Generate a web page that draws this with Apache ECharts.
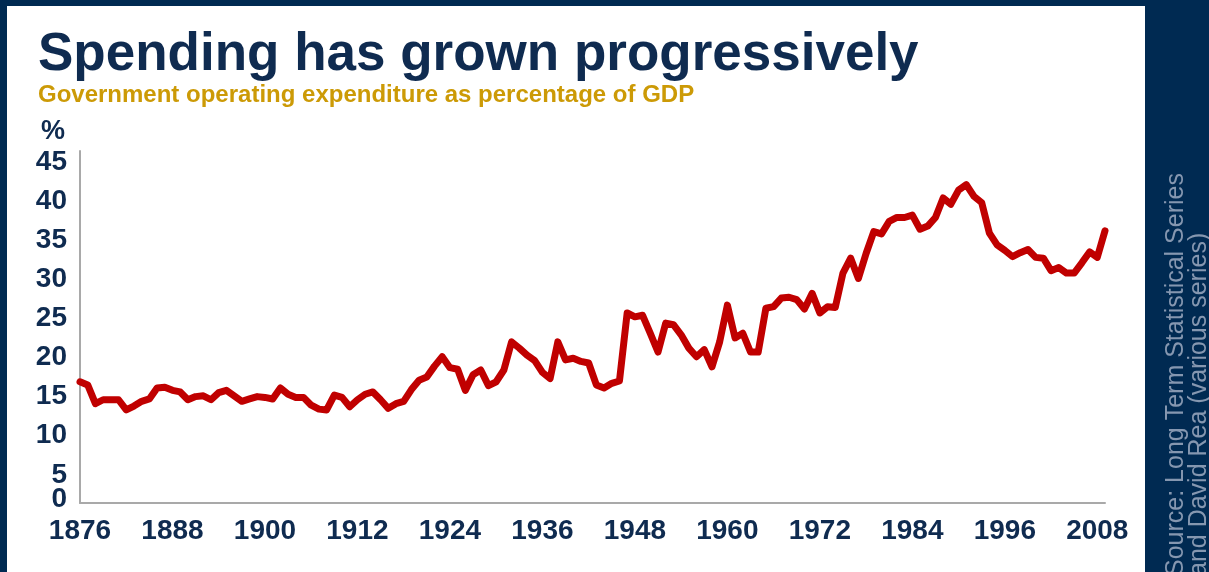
<!DOCTYPE html>
<html>
<head>
<meta charset="utf-8">
<title>Spending has grown progressively</title>
<script src="https://cdn.jsdelivr.net/npm/echarts@6/dist/echarts.min.js"></script>
<style>
  html, body {
    margin: 0;
    padding: 0;
    background: #002a52;
  }
  #chart {
    width: 1209px;
    height: 572px;
  }
</style>
</head>
<body>
<div id="chart"></div>
<script>
// 年份 1876 - 2009
const years = []
for (let y = 1876; y <= 2009; y++) {
  years.push(String(y))
}

// 政府经营支出占 GDP 百分比
const spending = [
  15.5, 15.1, 12.7, 13.2, 13.2, 13.2, 11.9, 12.4, 13.0, 13.3, // 1876
  14.7, 14.8, 14.4, 14.2, 13.2, 13.6, 13.7, 13.2, 14.1, 14.4, // 1886
  13.7, 13.0, 13.3, 13.6, 13.5, 13.3, 14.7, 13.9, 13.5, 13.5, // 1896
  12.5, 12.0, 11.9, 13.8, 13.5, 12.3, 13.2, 13.9, 14.2, 13.2, // 1906
  12.1, 12.7, 13.0, 14.5, 15.7, 16.1, 17.5, 18.7, 17.3, 17.1, // 1916
  14.4, 16.4, 17.0, 15.0, 15.5, 17.0, 20.6, 19.8, 18.9, 18.2, // 1926
  16.7, 15.9, 20.6, 18.3, 18.5, 18.1, 17.9, 15.1, 14.7, 15.3, // 1936
  15.6, 24.3, 23.8, 24.0, 21.7, 19.3, 23.0, 22.8, 21.5, 19.8, // 1946
  18.7, 19.6, 17.4, 20.6, 25.3, 21.1, 21.7, 19.3, 19.3, 24.9, // 1956
  25.1, 26.2, 26.3, 26.0, 24.8, 26.8, 24.3, 25.1, 25.0, 29.4, // 1966
  31.3, 28.7, 31.9, 34.7, 34.4, 36.0, 36.5, 36.5, 36.8, 35.0, // 1976
  35.4, 36.5, 39.0, 38.2, 40.0, 40.7, 39.2, 38.4, 34.5, 33.0, // 1986
  32.3, 31.5, 32.0, 32.4, 31.4, 31.3, 29.7, 30.1, 29.4, 29.4, // 1996
  30.7, 32.1, 31.4, 34.8                                      // 2006
]

const titleText = 'Spending has grown progressively'
const subtitleText = 'Government operating expenditure as percentage of GDP'
const sourceLines = ['Source: Long Term Statistical Series', 'and David Rea (various series)']

const navy = '#0f2b50'
const fontFamily = "'Liberation Sans', Arial, sans-serif"

const chart = echarts.init(document.getElementById('chart'))

const yLabelStyle = {
  margin: 13,
  color: navy,
  fontWeight: 'bold',
  fontSize: 28
}

const option = {
  animation: false,
  backgroundColor: '#002a52',
  textStyle: {
    fontFamily: fontFamily
  },
  grid: {
    left: 80,
    right: 104,
    top: 151,
    bottom: 69,
    containLabel: false
  },
  graphic: [
    {
      type: 'rect',
      z: -10,
      shape: {x: 7, y: 6, width: 1138, height: 570},
      style: {fill: '#ffffff'}
    },
    {
      type: 'text',
      x: 38,
      y: 29,
      style: {
        text: titleText,
        fill: navy,
        font: 'bold 53px ' + fontFamily,
        verticalAlign: 'top'
      }
    },
    {
      type: 'text',
      x: 38,
      y: 83,
      style: {
        text: subtitleText,
        fill: '#cc9a06',
        font: 'bold 24px ' + fontFamily,
        verticalAlign: 'top'
      }
    },
    {
      type: 'text',
      x: 53,
      y: 132,
      style: {
        text: '%',
        fill: navy,
        font: 'bold 27px ' + fontFamily,
        align: 'center',
        verticalAlign: 'middle'
      }
    },
    ...sourceLines.map((line, i) => ({
      type: 'text',
      x: 1176 + i * 23,
      y: 576,
      rotation: Math.PI / 2,
      style: {
        text: line,
        fill: '#8597b0',
        font: '25px ' + fontFamily,
        align: 'left',
        verticalAlign: 'middle'
      }
    }))
  ],
  xAxis: {
    type: 'category',
    data: years,
    boundaryGap: false,
    axisLine: {
      show: true,
      lineStyle: {color: '#a9a9a9', width: 2}
    },
    axisTick: {show: false},
    splitLine: {show: false},
    axisLabel: {
      interval: 11, // 每12年一个标签
      margin: 14,
      color: navy,
      fontWeight: 'bold',
      fontSize: 28
    }
  },
  yAxis: [
    {
      // 主轴：5 ~ 45，标签略低于刻度
      type: 'value',
      min: 0,
      max: 45,
      interval: 5,
      axisLine: {
        show: true,
        lineStyle: {color: '#a9a9a9', width: 2}
      },
      axisTick: {show: false},
      splitLine: {show: false},
      axisLabel: {
        ...yLabelStyle,
        showMinLabel: true,
        showMaxLabel: true,
        verticalAlign: 'top',
        lineHeight: 22,
        formatter: (value) => value === 0 ? '' : String(value)
      }
    },
    {
      // 只画 0，略高于刻度
      type: 'value',
      position: 'left',
      min: 0,
      max: 45,
      interval: 45,
      axisLine: {show: false},
      axisTick: {show: false},
      splitLine: {show: false},
      axisLabel: {
        ...yLabelStyle,
        showMinLabel: true,
        verticalAlign: 'bottom',
        lineHeight: 8,
        formatter: (value) => value === 0 ? '0' : ''
      }
    }
  ],
  series: [
    {
      name: 'Spending',
      type: 'line',
      yAxisIndex: 0,
      data: spending,
      showSymbol: false,
      smooth: false,
      lineStyle: {
        color: '#c00000',
        width: 7,
        cap: 'round',
        join: 'round'
      }
    }
  ]
}

chart.setOption(option)
</script>
</body>
</html>
